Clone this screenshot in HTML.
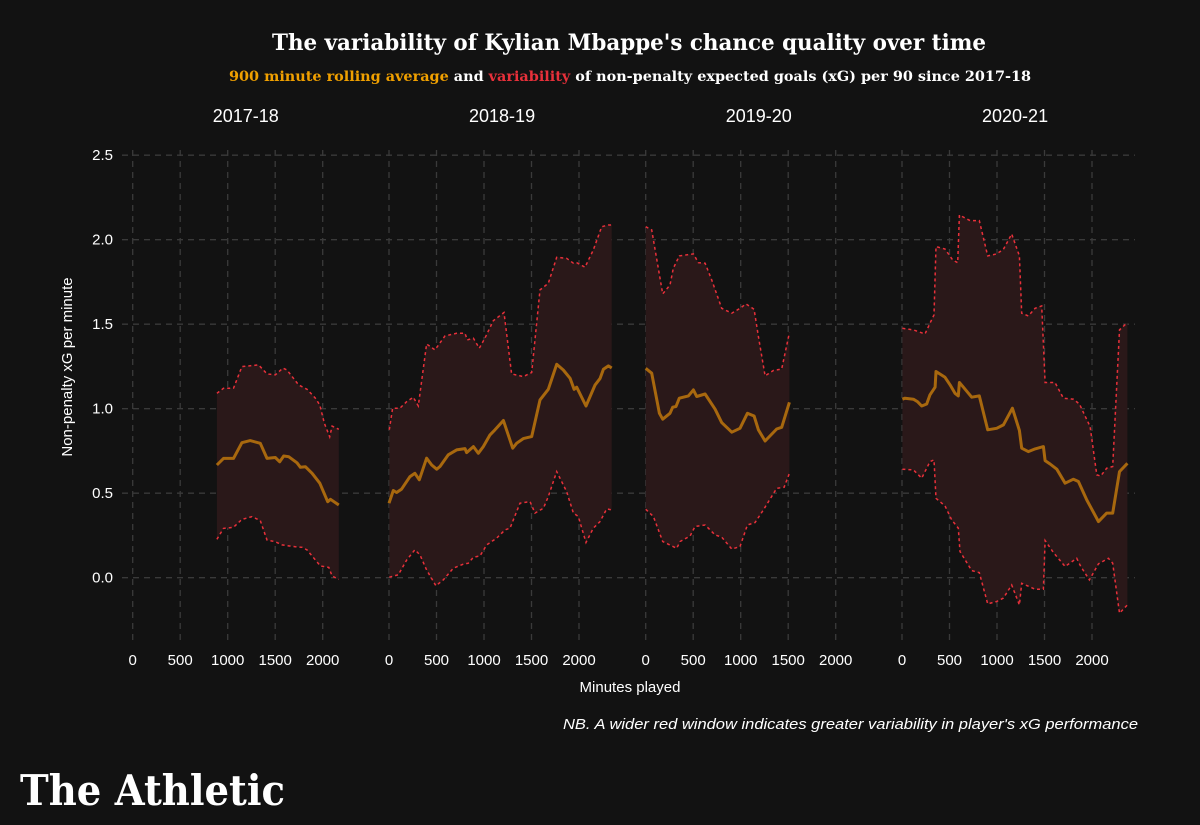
<!DOCTYPE html>
<html><head><meta charset="utf-8"><style>
html,body{margin:0;padding:0;background:#121212;}
svg{display:block;}
</style></head><body>
<svg id="chart" width="1200" height="825" viewBox="0 0 1200 825" xmlns="http://www.w3.org/2000/svg">
<rect width="1200" height="825" fill="#121212"/>
<text x="629" y="50" text-anchor="middle" fill="#fff" font-family="DejaVu Serif, serif" font-weight="bold" font-size="22" textLength="714" lengthAdjust="spacingAndGlyphs">The variability of Kylian Mbappe's chance quality over time</text>
<text x="229" y="81" font-family="DejaVu Serif, serif" font-weight="bold" font-size="14" textLength="802" lengthAdjust="spacingAndGlyphs"><tspan fill="#f0a000">900 minute rolling average</tspan><tspan fill="#fff">  and  </tspan><tspan fill="#e8303a">variability</tspan><tspan fill="#fff">  of non-penalty expected goals (xG) per 90 since 2017-18</tspan></text>
<g id="grid"></g>
<g id="marks"></g>
<g id="labels"></g>
<text x="630" y="692" text-anchor="middle" fill="#fff" font-family="Liberation Sans, sans-serif" font-size="15">Minutes played</text>
<text transform="translate(72,367) rotate(-90)" text-anchor="middle" fill="#fff" font-family="Liberation Sans, sans-serif" font-size="15">Non-penalty xG per minute</text>
<text x="563" y="729" fill="#fff" font-family="Liberation Sans, sans-serif" font-style="italic" font-size="15" textLength="575" lengthAdjust="spacingAndGlyphs">NB. A wider red window indicates greater variability in player's xG performance</text>
<text x="20" y="805" fill="#fff" font-family="DejaVu Serif, serif" font-weight="bold" font-size="42" textLength="265" lengthAdjust="spacingAndGlyphs">The Athletic</text>
</svg>
<script>
const seasons = ["2017-18","2018-19","2019-20","2020-21"];
const yTicks = [0,0.5,1,1.5,2,2.5];
const yTickLabels = ["0.0","0.5","1.0","1.5","2.0","2.5"];
const xTicks = [0,500,1000,1500,2000];
const xTickLabels = ["0","500","1000","1500","2000"];

const mean1 = [[886,0.667],[956,0.706],[1061,0.706],[1150,0.799],[1237,0.811],[1343,0.795],[1414,0.706],[1501,0.711],[1547,0.686],[1589,0.720],[1642,0.716],[1730,0.680],[1765,0.653],[1818,0.657],[1888,0.618],[1969,0.559],[2053,0.450],[2082,0.464],[2169,0.430]];
const upper1 = [[886,1.091],[956,1.121],[1061,1.121],[1150,1.249],[1325,1.259],[1414,1.206],[1501,1.200],[1582,1.240],[1624,1.229],[1747,1.140],[1836,1.115],[1923,1.062],[1969,1.022],[2018,0.913],[2074,0.834],[2099,0.897],[2169,0.878]];
const lower1 = [[886,0.227],[956,0.292],[1061,0.298],[1150,0.345],[1255,0.361],[1343,0.338],[1414,0.223],[1501,0.213],[1572,0.194],[1712,0.183],[1783,0.180],[1836,0.164],[1976,0.069],[2064,0.061],[2099,0.010],[2169,-0.010]];

const mean2 = [[0,0.441],[45,0.516],[80,0.504],[133,0.524],[221,0.598],[273,0.618],[319,0.579],[396,0.707],[449,0.667],[502,0.642],[537,0.658],[624,0.727],[712,0.756],[800,0.764],[817,0.740],[888,0.776],[940,0.736],[993,0.776],[1063,0.845],[1116,0.875],[1204,0.930],[1302,0.766],[1344,0.796],[1414,0.823],[1502,0.835],[1590,1.052],[1677,1.115],[1765,1.263],[1835,1.229],[1906,1.180],[1948,1.115],[1976,1.127],[2074,1.016],[2169,1.141],[2221,1.178],[2257,1.233],[2309,1.253],[2344,1.241]];
const upper2 = [[3,0.875],[38,1.003],[115,1.003],[186,1.042],[256,1.068],[308,1.016],[396,1.383],[484,1.348],[589,1.431],[712,1.446],[800,1.446],[824,1.407],[888,1.417],[951,1.358],[1010,1.417],[1098,1.521],[1211,1.569],[1291,1.206],[1414,1.190],[1502,1.214],[1590,1.703],[1677,1.742],[1765,1.896],[1870,1.890],[1941,1.861],[1976,1.864],[2063,1.837],[2151,1.939],[2239,2.077],[2309,2.087],[2344,2.087]];
const lower2 = [[3,0.003],[98,0.017],[186,0.105],[273,0.165],[326,0.135],[396,0.046],[494,-0.048],[572,-0.013],[677,0.056],[782,0.080],[835,0.086],[888,0.121],[958,0.129],[1028,0.194],[1133,0.234],[1221,0.283],[1274,0.293],[1379,0.441],[1484,0.451],[1537,0.382],[1625,0.411],[1677,0.480],[1765,0.628],[1870,0.510],[1941,0.382],[1993,0.362],[2074,0.208],[2151,0.293],[2221,0.332],[2292,0.407],[2344,0.401]];

const mean3 = [[0,1.239],[63,1.210],[144,0.973],[179,0.938],[256,0.973],[284,1.009],[319,1.013],[354,1.062],[449,1.076],[502,1.111],[537,1.072],[625,1.087],[730,0.997],[800,0.918],[906,0.861],[993,0.884],[1071,0.973],[1141,0.957],[1186,0.875],[1257,0.809],[1379,0.880],[1432,0.890],[1513,1.038]];
const upper3 = [[0,2.077],[63,2.058],[179,1.679],[256,1.732],[291,1.831],[354,1.904],[502,1.916],[555,1.864],[625,1.861],[695,1.762],[800,1.594],[906,1.565],[993,1.594],[1056,1.620],[1141,1.588],[1186,1.427],[1257,1.194],[1344,1.226],[1432,1.235],[1513,1.450]];
const lower3 = [[0,0.405],[81,0.362],[179,0.214],[326,0.174],[362,0.214],[467,0.247],[519,0.303],[625,0.312],[730,0.253],[800,0.240],[906,0.169],[993,0.184],[1071,0.312],[1151,0.326],[1239,0.401],[1379,0.529],[1457,0.535],[1513,0.618]];

const mean4 = [[4,1.056],[32,1.062],[120,1.056],[162,1.042],[207,1.016],[260,1.028],[295,1.082],[348,1.127],[358,1.220],[453,1.186],[506,1.141],[558,1.091],[593,1.076],[604,1.155],[646,1.127],[734,1.068],[814,1.076],[902,0.875],[997,0.884],[1067,0.904],[1162,1.003],[1236,0.871],[1260,0.766],[1330,0.746],[1401,0.762],[1488,0.776],[1506,0.693],[1559,0.673],[1629,0.642],[1717,0.559],[1804,0.583],[1857,0.569],[1945,0.460],[2068,0.332],[2155,0.382],[2218,0.382],[2289,0.628],[2373,0.677]];
const upper4 = [[4,1.476],[120,1.466],[242,1.442],[295,1.506],[337,1.555],[358,1.959],[453,1.945],[534,1.880],[586,1.864],[604,2.146],[716,2.113],[814,2.113],[902,1.904],[997,1.916],[1067,1.943],[1155,2.034],[1236,1.904],[1260,1.565],[1330,1.549],[1401,1.594],[1471,1.608],[1506,1.155],[1611,1.155],[1699,1.062],[1804,1.056],[1867,1.028],[1980,0.894],[2050,0.608],[2092,0.602],[2155,0.648],[2218,0.658],[2289,1.466],[2373,1.510]];
const lower4 = [[4,0.642],[120,0.638],[207,0.589],[295,0.687],[337,0.697],[358,0.470],[453,0.425],[523,0.342],[593,0.293],[611,0.155],[734,0.042],[814,0.030],[902,-0.155],[997,-0.141],[1067,-0.121],[1155,-0.043],[1236,-0.161],[1260,-0.033],[1401,-0.068],[1488,-0.068],[1506,0.220],[1594,0.149],[1717,0.066],[1839,0.115],[1882,0.066],[1973,-0.013],[2068,0.082],[2173,0.115],[2218,0.086],[2289,-0.210],[2373,-0.161]];

const panels = [
  {mean: mean1, upper: upper1, lower: lower1, x0: 132.7},
  {mean: mean2, upper: upper2, lower: lower2, x0: 389},
  {mean: mean3, upper: upper3, lower: lower3, x0: 645.7},
  {mean: mean4, upper: upper4, lower: lower4, x0: 902}
];
const NS = "http://www.w3.org/2000/svg";
const pxPerMin = 47.5/500;
function yScale(v){ return 577.7 - v*169; }
function xScale(p, m){ return p.x0 + m*pxPerMin; }
function mk(tag, attrs, parent){ const e=document.createElementNS(NS,tag); for(const k in attrs) e.setAttribute(k,attrs[k]); parent.appendChild(e); return e; }

const grid = document.getElementById('grid');
const marks = document.getElementById('marks');
const labels = document.getElementById('labels');

yTicks.forEach((t,i)=>{
  const y = yScale(t);
  const l = mk('line',{x1:122,x2:1135,y1:y,y2:y,stroke:'#3a3a3a','stroke-width':1.3,'stroke-dasharray':'6 5'},grid);
  
  
  const tx = mk('text',{x:113,y:y+5,'text-anchor':'end',fill:'#fff','font-family':'Liberation Sans, sans-serif','font-size':15},labels);
  tx.textContent = yTickLabels[i];
  
  
});

panels.forEach((p,pi)=>{
  xTicks.forEach((t,i)=>{
    const x = xScale(p,t);
    const l = mk('line',{x1:x,x2:x,y1:150,y2:640,stroke:'#3a3a3a','stroke-width':1.3,'stroke-dasharray':'6 5'},grid);
    
    
    const tx = mk('text',{x:x,y:665,'text-anchor':'middle',fill:'#fff','font-family':'Liberation Sans, sans-serif','font-size':15},labels);
    tx.textContent = xTickLabels[i];
    
    
  });
  const h = mk('text',{x:xScale(p,1190),y:122,'text-anchor':'middle',fill:'#fff','font-family':'Liberation Sans, sans-serif','font-size':18},labels);
  h.textContent = seasons[pi];
  
  

  const up = p.upper.map(d=>xScale(p,d[0]).toFixed(1)+','+yScale(d[1]).toFixed(1));
  const lo = p.lower.slice().reverse().map(d=>xScale(p,d[0]).toFixed(1)+','+yScale(d[1]).toFixed(1));
  const band = mk('polygon',{points:up.concat(lo).join(' '),fill:'#2a1819'},marks);
  
  
  [['upper','upper-bound-line'],['lower','lower-bound-line']].forEach(([k,n])=>{
    const pl = mk('polyline',{points:p[k].map(d=>xScale(p,d[0]).toFixed(1)+','+yScale(d[1]).toFixed(1)).join(' '),fill:'none',stroke:'#e8303a','stroke-width':1.5,'stroke-dasharray':'3 3'},marks);
    
    
  });
  const ml = mk('polyline',{points:p.mean.map(d=>xScale(p,d[0]).toFixed(1)+','+yScale(d[1]).toFixed(1)).join(' '),fill:'none',stroke:'#a8680e','stroke-width':3,'stroke-linejoin':'round'},marks);
  
  
});
</script>
</body></html>
